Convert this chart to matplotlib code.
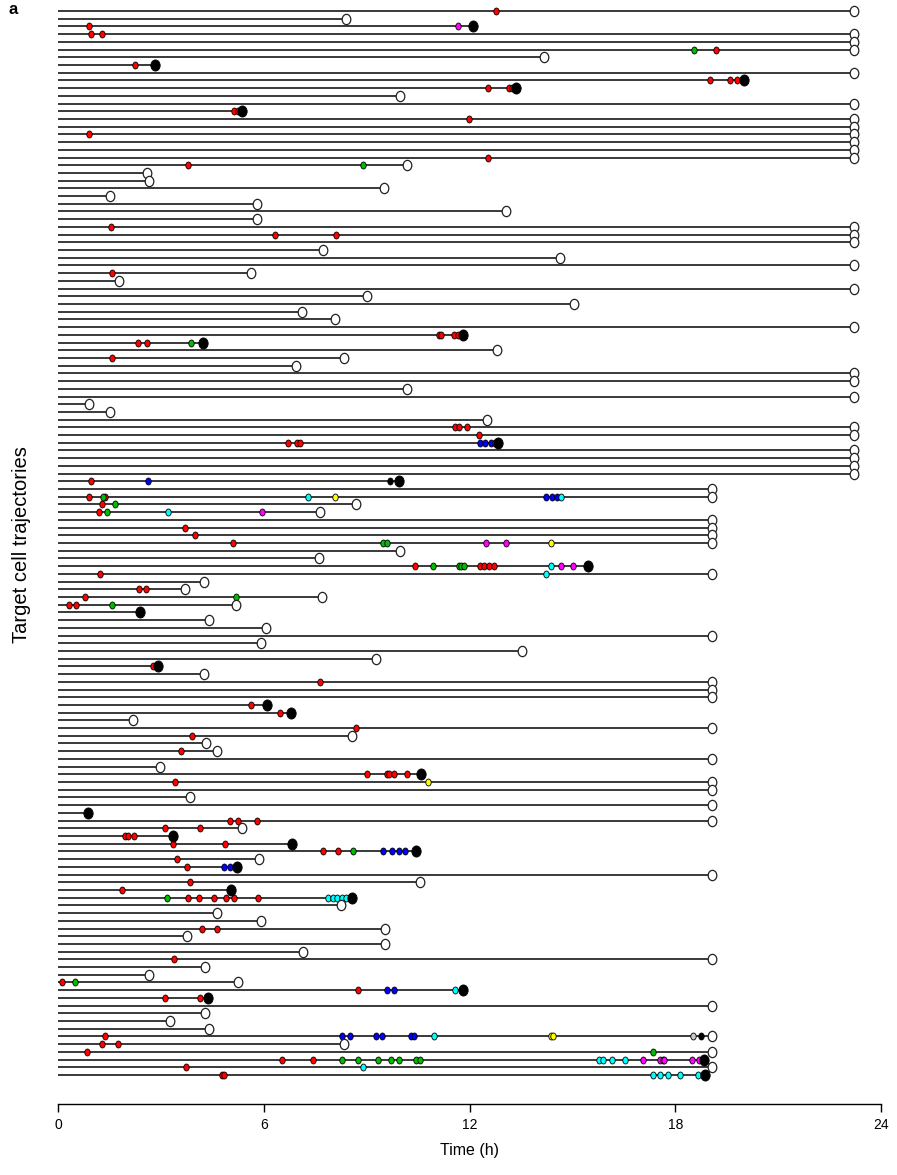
import numpy as np
import matplotlib
matplotlib.use("Agg")
import matplotlib.pyplot as plt
from matplotlib.path import Path
from matplotlib.transforms import Affine2D

plt.rcParams['font.family'] = ['Liberation Sans', 'DejaVu Sans']

# end time (h) of every trajectory, top row first
end_time = [23.2, 8.4, 12.1, 23.2, 23.2, 23.2, 14.18, 2.82, 23.2, 20.0,
            13.35, 9.98, 23.2, 5.37, 23.2, 23.2, 23.2, 23.2, 23.2, 23.2,
            10.18, 2.6, 2.66, 9.51, 1.52, 5.8, 13.07, 5.8, 23.2, 23.2,
            23.2, 7.72, 14.64, 23.2, 5.64, 1.78, 23.2, 9.0, 15.05, 7.12,
            8.08, 23.2, 11.8, 4.22, 12.8, 8.35, 6.93, 23.2, 23.2, 10.18,
            23.2, 0.9, 1.52, 12.51, 23.2, 23.2, 12.84, 23.2, 23.2, 23.2,
            23.2, 9.93, 19.06, 19.06, 8.7, 7.65, 19.06, 19.06, 19.06, 19.06,
            9.98, 7.6, 15.45, 19.06, 4.26, 3.71, 7.7, 5.18, 2.38, 4.4,
            6.08, 19.06, 5.92, 13.54, 9.28, 2.92, 4.25, 19.06, 19.06, 19.06,
            6.1, 6.8, 2.18, 19.06, 8.57, 4.32, 4.65, 19.06, 2.97, 10.59,
            19.06, 19.06, 3.86, 19.06, 0.88, 19.06, 5.37, 3.35, 6.82, 10.45,
            5.86, 5.22, 19.06, 10.56, 5.05, 8.58, 8.25, 4.64, 5.92, 9.54,
            3.77, 9.54, 7.15, 19.06, 4.29, 2.66, 5.26, 11.8, 4.38, 19.06,
            4.29, 3.27, 4.41, 19.06, 8.34, 19.06, 18.83, 19.06, 18.86]

# rows ending in cell death (filled black marker)
dead_rows = [2, 7, 9, 10, 13, 42, 43, 56, 61, 72, 78, 85, 90, 91, 99, 104,
             107, 108, 109, 111, 114, 115, 127, 128, 136, 138]

# events: (row, time in h)
red_events = [(0, 12.77), (2, 0.89), (3, 0.96), (3, 1.28), (5, 19.19), (7, 2.25),
              (9, 19.02), (9, 19.6), (9, 19.8), (10, 12.53), (10, 13.15), (10, 13.24),
              (13, 5.12), (13, 5.25), (14, 11.98), (16, 0.91), (19, 12.54), (20, 3.79),
              (28, 1.55), (29, 6.32), (29, 8.1), (34, 1.57), (42, 11.1), (42, 11.17),
              (42, 11.55), (42, 11.66), (43, 2.33), (43, 2.6), (45, 1.57), (54, 11.57),
              (54, 11.7), (54, 11.92), (55, 12.29), (56, 6.71), (56, 6.96), (56, 7.05),
              (61, 0.96), (63, 0.9), (63, 1.38), (64, 1.28), (65, 1.2), (67, 3.7),
              (68, 4.0), (69, 5.1), (72, 10.41), (72, 12.32), (72, 12.43), (72, 12.57),
              (72, 12.72), (73, 1.22), (75, 2.36), (75, 2.56), (76, 0.8), (77, 0.32),
              (77, 0.53), (85, 2.77), (87, 7.65), (90, 5.63), (91, 6.48), (93, 8.7),
              (94, 3.91), (96, 3.59), (99, 9.02), (99, 9.58), (99, 9.66), (99, 9.8),
              (99, 10.18), (100, 3.42), (105, 5.02), (105, 5.26), (105, 5.8), (106, 3.12),
              (106, 4.14), (107, 1.95), (107, 2.05), (107, 2.22), (108, 3.35), (108, 4.87),
              (109, 7.72), (109, 8.17), (110, 3.46), (111, 3.77), (113, 3.84), (114, 1.87),
              (115, 3.8), (115, 4.12), (115, 4.56), (115, 4.9), (115, 5.12), (115, 5.83),
              (119, 4.2), (119, 4.65), (123, 3.37), (126, 0.12), (127, 8.76), (128, 3.12),
              (128, 4.14), (133, 1.37), (134, 1.27), (134, 1.75), (135, 0.85), (136, 6.52),
              (136, 7.43), (137, 3.73), (138, 4.77), (138, 4.84)]
green_events = [(5, 18.56), (20, 8.88), (43, 3.88), (63, 1.32), (64, 1.66), (65, 1.42),
                (69, 9.49), (69, 9.6), (72, 10.95), (72, 11.68), (72, 11.76), (72, 11.84),
                (76, 5.19), (77, 1.57), (109, 8.6), (115, 3.18), (126, 0.5), (135, 17.36),
                (136, 8.28), (136, 8.75), (136, 9.33), (136, 9.7), (136, 9.95),
                (136, 10.45), (136, 10.57)]
blue_events = [(56, 12.31), (56, 12.45), (56, 12.62), (61, 2.61), (63, 14.22), (63, 14.4),
               (63, 14.55), (109, 9.47), (109, 9.75), (109, 9.93), (109, 10.11),
               (111, 4.83), (111, 5.02), (127, 9.58), (127, 9.79), (133, 8.27),
               (133, 8.52), (133, 9.28), (133, 9.46), (133, 10.29), (133, 10.37)]
magenta_events = [(2, 11.66), (56, 12.73), (65, 5.94), (69, 12.47), (69, 13.05),
                  (72, 14.68), (72, 15.01), (136, 17.05), (136, 17.56), (136, 17.63),
                  (136, 17.68), (136, 18.5), (136, 18.7)]
cyan_events = [(63, 7.3), (63, 14.68), (65, 3.21), (72, 14.37), (73, 14.23), (115, 7.88),
               (115, 8.02), (115, 8.15), (115, 8.28), (115, 8.41), (127, 11.57),
               (133, 10.96), (136, 15.79), (136, 15.89), (136, 16.15), (136, 16.54),
               (137, 8.89), (138, 17.36), (138, 17.56), (138, 17.78), (138, 18.13),
               (138, 18.66)]
yellow_events = [(63, 8.07), (69, 14.38), (100, 10.8), (133, 14.37), (133, 14.43)]
black_events = [(61, 9.67), (133, 18.75)]
grey_events = [(133, 18.52)]

event_sets = [(red_events, '#ff0000'), (green_events, '#00bb00'),
              (blue_events, '#0000ff'), (magenta_events, '#ff00ff'),
              (cyan_events, '#00ffff'), (yellow_events, '#ffff00'),
              (black_events, '#000000'), (grey_events, '#c8c8c8')]

# slightly tall ellipse marker, like the original
def oval(aspect):
    return Path.unit_circle().transformed(Affine2D().scale(aspect, 1.0))

dot = oval(0.78)
ring = oval(0.84)

n = len(end_time)
fig = plt.figure(figsize=(8.97, 11.75), dpi=100)
ax = fig.add_axes([58/897, 71/1175, 823/897, 1100/1175])

for i in range(n):
    ax.plot([0, end_time[i]], [i, i], color='#2a2a2a', lw=1.3, zorder=1)

for evs, col in event_sets:
    r = np.array([e[0] for e in evs])
    t = np.array([e[1] for e in evs])
    ax.plot(t, r, ls='none', marker=dot, ms=5.0, mfc=col, mec='black', mew=0.6, zorder=3)

end_time = np.array(end_time)
rows = np.arange(n)
dead = np.isin(rows, dead_rows)
ax.plot(end_time[~dead], rows[~dead], ls='none', marker=ring, ms=7.4,
        mfc='white', mec='#222222', mew=0.9, zorder=4)
ax.plot(end_time[dead], rows[dead], ls='none', marker=ring, ms=8.0,
        mfc='black', mec='black', mew=0.6, zorder=4)

ax.set_xlim(0, 24)
ax.set_ylim(n - 1 + 3.76, -0.91)
ax.set_xticks([0, 6, 12, 18, 24])
ax.tick_params(axis='x', direction='out', length=6, width=1, labelsize=10, pad=4)
ax.set_yticks([])
for s in ['left', 'top', 'right']:
    ax.spines[s].set_visible(False)
ax.spines['bottom'].set_linewidth(1.0)

fig.text(469/897, 1 - 1150/1175, 'Time (h)', ha='center', va='center', fontsize=11.5)
fig.text(22/897, 1 - 545/1175, 'Target cell trajectories', ha='center', va='center',
         rotation=90, fontsize=14.5)
fig.text(13/897, 1 - 10/1175, 'a', ha='center', va='center', fontsize=12, fontweight='bold')

plt.savefig("out.png", dpi=100)
